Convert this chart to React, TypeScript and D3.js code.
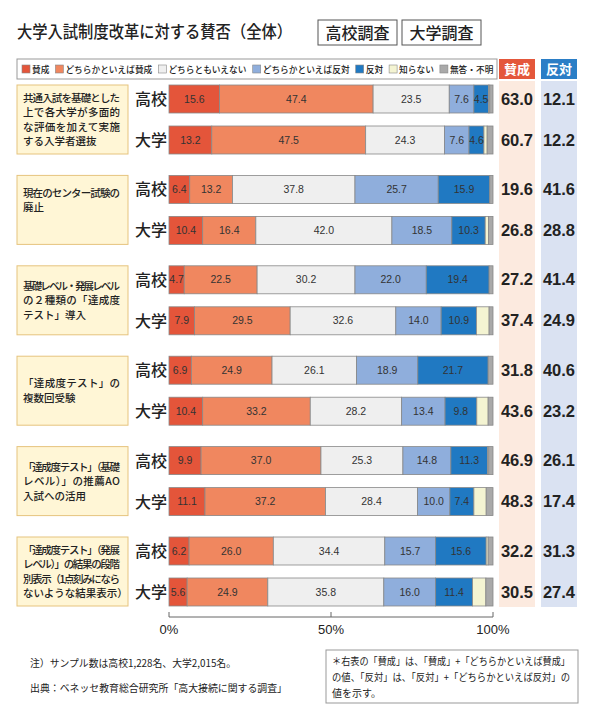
import React from 'react';
import * as d3 from 'd3';

const categories = ['賛成', 'どちらかといえば賛成', 'どちらともいえない', 'どちらかといえば反対', '反対', '知らない', '無答・不明'];
const colors = ['#E4553A', '#F0875F', '#EFEFEF', '#8FAEDC', '#2079C2', '#F4F4D2', '#A9A9A9'];
const respondents = ['高校', '大学'];
const itemLines = [
  ['共通入試を基礎とした', '上で各大学が多面的', 'な評価を加えて実施', 'する入学者選抜'],
  ['現在のセンター試験の', '廃止'],
  ['基礎レベル・発展レベル', 'の２種類の「達成度', 'テスト」導入'],
  ['「達成度テスト」の', '複数回受験'],
  ['「達成度テスト」（基礎', 'レベル）」の推薦AO', '入試への活用'],
  ['「達成度テスト」（発展', 'レベル）」の結果の段階', '別表示（1点刻みになら', 'ないような結果表示）'],
];
// rows: item0 高校, item0 大学, item1 高校, ...
const sansei = [15.6, 13.2, 6.4, 10.4, 4.7, 7.9, 6.9, 10.4, 9.9, 11.1, 6.2, 5.6];
const dochiraSansei = [47.4, 47.5, 13.2, 16.4, 22.5, 29.5, 24.9, 33.2, 37.0, 37.2, 26.0, 24.9];
const neutral = [23.5, 24.3, 37.8, 42.0, 30.2, 32.6, 26.1, 28.2, 25.3, 28.4, 34.4, 35.8];
const dochiraHantai = [7.6, 7.6, 25.7, 18.5, 22.0, 14.0, 18.9, 13.4, 14.8, 10.0, 15.7, 16.0];
const hantai = [4.5, 4.6, 15.9, 10.3, 19.4, 10.9, 21.7, 9.8, 11.3, 7.4, 15.6, 11.4];
const shiranai = [0.4, 1.0, 0, 1.0, 0, 3.9, 0, 3.5, 0.4, 3.8, 0.6, 4.1];
const mutou = [1.0, 1.8, 1.0, 1.4, 1.2, 1.2, 1.5, 1.5, 1.3, 2.1, 1.5, 2.2];
const axisTicks = [0, 50, 100];

const series = [sansei, dochiraSansei, neutral, dochiraHantai, hantai, shiranai, mutou];
const rows = sansei.map((_, r) => {
  const o: any = { r };
  categories.forEach((c, k) => (o[c] = series[k][r]));
  return o;
});

const JP = '"Noto Sans CJK JP", "Noto Sans", sans-serif';
const NUM = '"Liberation Sans Narrow", "Liberation Sans", Arial, sans-serif';

export default function App() {
  const x = d3.scaleLinear().domain([0, 100]).range([169, 493]);
  const groupY = d3.scaleLinear().domain([0, 5]).range([85, 537]);
  const barH = 28;
  const rowY = (r: number) => groupY(Math.floor(r / 2)) + (r % 2) * 41;
  const stack = d3.stack<any>().keys(categories)(rows);

  // legend layout
  const legFont = 8.7;
  let lx = 22;
  const legend = categories.map((c, i) => {
    const item = { c, i, x: lx };
    lx += 9 + 2 + c.length * legFont + 5;
    return item;
  });

  return (
    <svg width={600} height={720} style={{ position: 'absolute', left: 0, top: 0, background: '#fff' }}>
      {/* title */}
      <text x={17} y={38} fontFamily={JP} fontWeight={500} fontSize={16.5} fill="#222" textLength={275} lengthAdjust="spacingAndGlyphs">大学入試制度改革に対する賛否（全体）</text>
      {['高校調査', '大学調査'].map((t, i) => (
        <g key={t}>
          <rect x={318 + i * 84} y={20} width={79} height={25} fill="#fff" stroke="#555" strokeWidth={1} />
          <text x={318 + i * 84 + 39.5} y={38.5} textAnchor="middle" fontFamily={JP} fontWeight={500} fontSize={16} fill="#222">{t}</text>
        </g>
      ))}

      {/* legend */}
      <rect x={17} y={59} width={480} height={20} fill="#fff" stroke="#999" strokeWidth={1} />
      {legend.map(({ c, i, x: ix }) => (
        <g key={c}>
          <rect x={ix} y={65} width={8} height={8} fill={colors[i]} stroke="#888" strokeWidth={0.6} />
          <text x={ix + 10} y={72.5} fontFamily={JP} fontWeight={500} fontSize={legFont} fill="#222">{c}</text>
        </g>
      ))}

      {/* right columns */}
      <rect x={499} y={81} width={36} height={526} fill="#FCEADF" />
      <rect x={541} y={81} width={36} height={526} fill="#DAE2F2" />
      <rect x={499} y={59} width={36} height={20} fill="#E4573B" />
      <rect x={541} y={59} width={36} height={20} fill="#2B7EC6" />
      <text x={517} y={74} textAnchor="middle" fontFamily={JP} fontWeight="bold" fontSize={13} fill="#fff">賛成</text>
      <text x={559} y={74} textAnchor="middle" fontFamily={JP} fontWeight="bold" fontSize={13} fill="#fff">反対</text>

      {/* item label boxes */}
      {itemLines.map((lines, g) => {
        const top = groupY(g);
        const h = 41 + barH;
        const lh = 14.5;
        const cy = top + h / 2 + (g === 1 ? -10 : 0);
        const y0 = cy - ((lines.length - 1) * lh) / 2 + 4;
        return (
          <g key={g}>
            <rect x={17} y={top} width={111} height={h} fill="#FFF6D6" stroke="#E6C47E" strokeWidth={1} />
            {lines.map((l, k) => {
              const full = k < lines.length - 1 || lines.length === 1;
              return (
                <text key={k} x={23} y={y0 + k * lh} fontFamily={JP} fontWeight={500} fontSize={10.5} fill="#222"
                  {...(full && l.length >= 8 ? { textLength: 97, lengthAdjust: 'spacing' } : {})}>{l}</text>
              );
            })}
          </g>
        );
      })}

      {/* bars */}
      {rows.map((row, r) => {
        const y = rowY(r);
        return (
          <g key={r}>
            <text x={151} y={y + barH / 2 + 6} textAnchor="middle" fontFamily={JP} fontWeight={500} fontSize={16} fill="#222">{respondents[r % 2]}</text>
            {stack.map((s, k) => {
              const d = s[r];
              if (d[1] - d[0] <= 0) return null;
              return (
                <rect key={k} x={x(d[0])} y={y} width={x(d[1]) - x(d[0])} height={barH}
                  fill={colors[k]} stroke="#888" strokeWidth={0.8} />
              );
            })}
            {stack.slice(0, 5).map((s, k) => {
              const d = s[r];
              return (
                <text key={'t' + k} x={(x(d[0]) + x(d[1])) / 2} y={y + barH / 2 + 3.5} textAnchor="middle"
                  fontFamily={NUM} fontSize={10.5} fill="#333">{series[k][r].toFixed(1)}</text>
              );
            })}
            <text x={517} y={y + barH / 2 + 5.5} textAnchor="middle" fontFamily={NUM} fontWeight="bold" fontSize={16.5} fill="#222">
              {(sansei[r] + dochiraSansei[r]).toFixed(1)}
            </text>
            <text x={559} y={y + barH / 2 + 5.5} textAnchor="middle" fontFamily={NUM} fontWeight="bold" fontSize={16.5} fill="#222">
              {(dochiraHantai[r] + hantai[r]).toFixed(1)}
            </text>
          </g>
        );
      })}

      {/* axis */}
      <line x1={x(0)} x2={x(100)} y1={617} y2={617} stroke="#666" strokeWidth={1} />
      {axisTicks.map((t) => (
        <g key={t}>
          <line x1={x(t)} x2={x(t)} y1={617} y2={612} stroke="#666" strokeWidth={1} />
          <text x={x(t)} y={634} textAnchor="middle" fontFamily={'"Liberation Sans", Arial, sans-serif'} fontSize={13} fill="#222">{t}%</text>
        </g>
      ))}

      {/* footer */}
      <text x={30} y={667} fontFamily={JP} fontSize={10} fill="#222" textLength={206} lengthAdjust="spacingAndGlyphs">注）サンプル数は高校1,228名、大学2,015名。</text>
      <text x={30} y={692} fontFamily={JP} fontSize={10} fill="#222" textLength={257} lengthAdjust="spacingAndGlyphs">出典：ベネッセ教育総合研究所「高大接続に関する調査」</text>
      <rect x={326} y={650} width={252} height={53} fill="#fff" stroke="#999" strokeWidth={1} />
      <text x={332} y={665} fontFamily={JP} fontSize={10} fill="#222" textLength={238} lengthAdjust="spacingAndGlyphs">＊右表の「賛成」は、「賛成」+「どちらかといえば賛成」</text>
      <text x={332} y={681} fontFamily={JP} fontSize={10} fill="#222" textLength={238} lengthAdjust="spacingAndGlyphs">の値、「反対」は、「反対」+「どちらかといえば反対」の</text>
      <text x={332} y={697} fontFamily={JP} fontSize={10} fill="#222">値を示す。</text>
    </svg>
  );
}
